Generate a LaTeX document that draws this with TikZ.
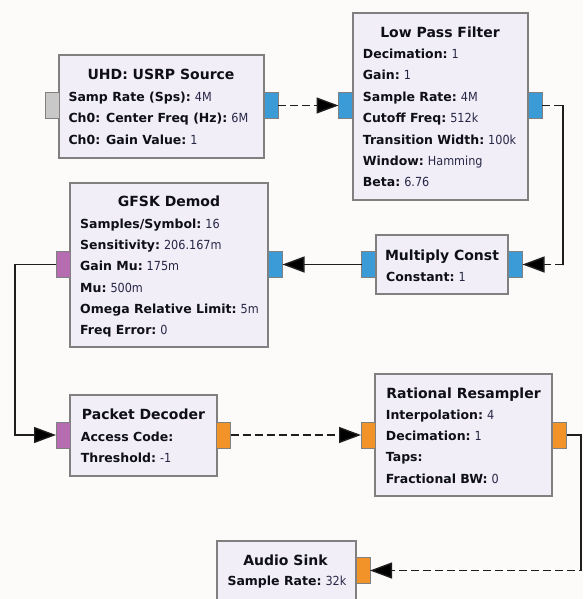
\documentclass[tikz,border=0pt]{standalone}
\usepackage{fontspec}
\setmainfont{DejaVu Sans}
\newfontfamily\valfont{DejaVu Sans}[FakeStretch=0.9]
\usetikzlibrary{arrows.meta}
\definecolor{bgc}{RGB}{253,250,250}
\definecolor{boxfill}{RGB}{241,238,248}
\definecolor{boxline}{RGB}{128,128,128}
\definecolor{pblue}{RGB}{58,155,214}
\definecolor{pgray}{RGB}{200,200,200}
\definecolor{ppurple}{RGB}{182,108,176}
\definecolor{porange}{RGB}{241,147,40}
\definecolor{lblc}{RGB}{15,15,25}
\definecolor{valc}{RGB}{40,40,70}
\definecolor{wire}{RGB}{30,30,30}
\newcommand\prow[5]{\node[body] (#1) at (#2,#3) {\textbf{#4}\ {\valfont\color{valc}#5}};}
\begin{document}
\begin{tikzpicture}[x=1pt,y=-1pt,
  block/.style={draw=boxline,fill=boxfill,line width=1.2pt,inner sep=0pt,outer sep=0pt},
  port/.style={draw=boxline,line width=1pt,minimum width=14pt,minimum height=26pt,inner sep=0pt,outer sep=0pt},
  ttl/.style={font=\fontsize{14}{16}\selectfont\bfseries,text=lblc,anchor=base,inner sep=0pt},
  body/.style={font=\fontsize{12.5}{15}\selectfont,text=lblc,anchor=base west,inner sep=0pt},
  conn/.style={draw=wire,line width=1.4pt},
  dconn/.style={conn,dash pattern=on 8pt off 4pt},
  tip/.style={-{Triangle[length=22pt,width=16pt,fill=black]}}
]
\clip (0,0) rectangle (583,599);
\fill[bgc] (0,0) rectangle (583,599);

% blocks
\node[block,minimum width=205pt,minimum height=103pt] (usrp) at (161.5,106.5) {};
\node[block,minimum width=175pt,minimum height=187pt] (lpf) at (440.5,106.5) {};
\node[block,minimum width=132pt,minimum height=59pt] (mc) at (442,264.5) {};
\node[block,minimum width=198pt,minimum height=164pt] (gfsk) at (169,265) {};
\node[block,minimum width=147pt,minimum height=81pt] (pd) at (143.5,435.5) {};
\node[block,minimum width=177pt,minimum height=122pt] (rr) at (463.5,435) {};
\node[block,minimum width=139pt,minimum height=79pt] (as) at (286.5,580.5) {};

% ports
\node[port,fill=pgray] (usrpin) at (52,105.5) {};
\node[port,fill=pblue] (usrpout) at (271,105.5) {};
\node[port,fill=pblue] (lpfin) at (345.5,105.5) {};
\node[port,fill=pblue] (lpfout) at (535,105.5) {};
\node[port,fill=pblue] (mcin) at (368.5,264.5) {};
\node[port,fill=pblue] (mcout) at (515.5,264.5) {};
\node[port,fill=ppurple] (gfskin) at (63,264.5) {};
\node[port,fill=pblue] (gfskout) at (275.5,264.5) {};
\node[port,fill=ppurple] (pdin) at (63,435) {};
\node[port,fill=porange] (pdout) at (223.5,435) {};
\node[port,fill=porange] (rrin) at (368,435) {};
\node[port,fill=porange] (rrout) at (559.5,435) {};
\node[port,fill=porange] (asin) at (363,570.5) {};

% texts
\node[ttl] (usrpt) at (161,80) {UHD: USRP Source};
\prow{usrp1}{68.3}{101.7}{Samp Rate (Sps):}{4M}
\prow{usrp2}{68.3}{123}{Ch0: Center Freq (Hz):}{6M}
\prow{usrp3}{68.3}{144.3}{Ch0: Gain Value:}{1}

\node[ttl] (lpft) at (440,37.3) {Low Pass Filter};
\prow{lpf1}{362.7}{58.7}{Decimation:}{1}
\prow{lpf2}{362.7}{80}{Gain:}{1}
\prow{lpf3}{362.7}{101.3}{Sample Rate:}{4M}
\prow{lpf4}{362.7}{122.7}{Cutoff Freq:}{512k}
\prow{lpf5}{362.7}{144}{Transition Width:}{100k}
\prow{lpf6}{362.7}{165.3}{Window:}{Hamming}
\prow{lpf7}{362.7}{186.7}{Beta:}{6.76}

\node[ttl] (mct) at (442,260) {Multiply Const};
\prow{mc1}{386}{281}{Constant:}{1}

\node[ttl] (gfskt) at (169,206.7) {GFSK Demod};
\prow{gfsk1}{80}{228.3}{Samples/Symbol:}{16}
\prow{gfsk2}{80}{249.6}{Sensitivity:}{206.167m}
\prow{gfsk3}{80}{270.9}{Gain Mu:}{175m}
\prow{gfsk4}{80}{292.2}{Mu:}{500m}
\prow{gfsk5}{80}{313.5}{Omega Relative Limit:}{5m}
\prow{gfsk6}{80}{334.8}{Freq Error:}{0}

\node[ttl] (pdt) at (143.5,419.3) {Packet Decoder};
\prow{pd1}{80.7}{441.7}{Access Code:}{}
\prow{pd2}{80.7}{462.7}{Threshold:}{-1}

\node[ttl] (rrt) at (463.5,398.3) {Rational Resampler};
\prow{rr1}{385.7}{419.3}{Interpolation:}{4}
\prow{rr2}{385.7}{440.6}{Decimation:}{1}
\prow{rr3}{385.7}{461.9}{Taps:}{}
\prow{rr4}{385.7}{483.2}{Fractional BW:}{0}

\node[ttl] (ast) at (285.5,565.7) {Audio Sink};
\prow{as1}{227.3}{585.7}{Sample Rate:}{32k}

% bend points
\coordinate (k1) at (563,105.5);
\coordinate (k2) at (563,264.5);
\coordinate (k3) at (15,264.5);
\coordinate (k4) at (15,435);
\coordinate (k5) at (581,435);
\coordinate (k6) at (581,570.5);

% connectors
\draw[dconn,tip] (usrpout.east) -- (lpfin.west);
\draw[dconn,tip] (lpfout.east) -- (k1) -- (k2) -- (mcout.east);
\draw[conn] (k1) -- (k2);
\draw[conn,tip] (mcin.west) -- (gfskout.east);
\draw[conn,tip] (gfskin.west) -- (k3) -- (k4) -- (pdin.west);
\draw[dconn,tip] (pdout.east) -- (rrin.west);
\draw[dconn,tip] (rrout.east) -- (k5) -- (k6) -- (asin.east);
\draw[conn] (rrout.east) -- (k5) -- (k6);
\end{tikzpicture}
\end{document}
